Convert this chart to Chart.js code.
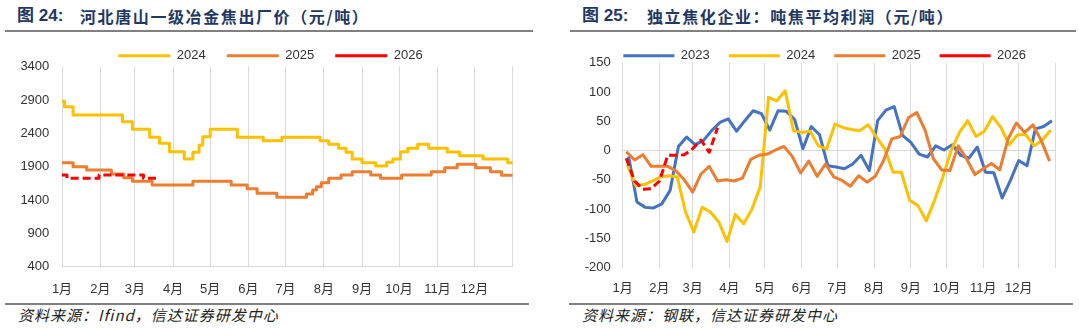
<!DOCTYPE html>
<html><head><meta charset="utf-8">
<script src="https://cdn.jsdelivr.net/npm/chart.js@4.4.1/dist/chart.umd.min.js"></script>
<style>
html,body{margin:0;padding:0;background:#fff;}
body{width:1079px;height:329px;position:relative;overflow:hidden;}
.title{position:absolute;top:5px;font:bold 16px "Noto Sans CJK SC",sans-serif;color:#1F3864;white-space:nowrap;line-height:22px;}
.title .fig{position:absolute;left:0;top:0;font-family:"Liberation Sans",Arial,"Noto Sans CJK SC",sans-serif;font-size:17px;}
.title .txt{position:absolute;left:63px;top:0;letter-spacing:1.6px;}
.rule{position:absolute;height:2px;background:#808080;}
.src{position:absolute;top:305px;font:italic 15px "Noto Sans CJK SC",sans-serif;color:#222;white-space:nowrap;letter-spacing:1px;line-height:20px;}
canvas{position:absolute;top:0;}
</style></head><body>
<div class="title" style="left:17px"><span class="fig">图 24:</span><span class="txt">河北唐山一级冶金焦出厂价（元/吨）</span></div>
<div class="rule" style="left:5px;width:528px;top:30px"></div>
<div class="title" style="left:582px"><span class="fig">图 25:</span><span class="txt" style="left:65px">独立焦化企业：吨焦平均利润（元/吨）</span></div>
<div class="rule" style="left:570px;width:506px;top:30px"></div>
<canvas id="c1" width="540" height="300" style="left:0"></canvas>
<canvas id="c2" width="499" height="300" style="left:580px"></canvas>
<div class="rule" style="left:5px;width:524px;top:303px"></div>
<div class="rule" style="left:569px;width:504px;top:303px"></div>
<div class="src" style="left:18px">资料来源：Ifind，信达证券研发中心</div>
<div class="src" style="left:582px">资料来源：钢联，信达证券研发中心</div>
<script>
// ---------- shared axis data ----------
const monthLabels = ['1月','2月','3月','4月','5月','6月','7月','8月','9月','10月','11月','12月'];
const monthStartDays = [0,31,59,90,120,151,181,212,243,273,304,334,365];

// ---------- Fig 24: 河北唐山一级冶金焦出厂价 (step changes: day of year, price) ----------
const priceYears = ['2024','2025','2026'];
const priceDays2024 = [0,2,9,49,57,71,79,87,99,106,111,114,120,142,163,178,209,216,224,230,235,243,254,263,268,274,280,288,297,312,322,341,361,365];
const price2024     = [2880,2800,2675,2575,2460,2340,2250,2125,2015,2115,2225,2350,2460,2340,2290,2340,2290,2235,2175,2115,2015,1960,1910,1965,2015,2125,2175,2235,2175,2120,2065,2015,1960,1960];
const priceDays2025 = [0,9,20,40,50,57,73,106,137,150,158,174,198,203,206,210,216,226,235,250,258,275,299,310,320,335,347,356,365];
const price2025     = [1960,1900,1850,1790,1735,1680,1625,1680,1625,1570,1500,1440,1490,1550,1600,1660,1725,1775,1825,1775,1725,1775,1825,1885,1935,1885,1825,1770,1770];
const priceDays2026 = [0,4,30,66,78];
const price2026     = [1775,1725,1775,1725,1725];
const priceTicks = {min:400, max:3400, step:500};

// ---------- Fig 25: 独立焦化企业吨焦平均利润 (weekly: day of year, profit) ----------
const profitYears = ['2023','2024','2025','2026'];
const profitDays2023 = [5,12,19,26,33,40,47,54,61,68,75,82,89,96,103,110,117,124,131,138,145,152,159,166,173,180,187,194,201,208,215,222,229,236,243,250,257,264,271,278,285,292,299,306,313,320,327,334,341,348,355,362];
const profit2023     = [-10,-88,-97,-98,-91,-68,7,23,10,17,34,48,54,33,51,68,63,35,68,67,53,3,41,27,-26,-28,-31,-23,-8,-34,51,69,75,26,14,-6,-11,8,1,10,-8,-13,6,-37,-38,-81,-51,-17,-26,37,41,51];
const profitDays2024 = [4,11,18,25,32,39,46,53,60,67,74,81,88,95,102,109,116,123,130,137,144,151,158,165,172,179,186,193,200,207,214,221,228,235,242,249,256,263,270,277,284,291,298,305,312,319,326,333,340,347,354,361];
const profit2024     = [-25,-60,-58,-52,-45,-43,-45,-105,-139,-97,-105,-122,-155,-109,-125,-100,-62,91,85,102,34,31,33,8,3,45,39,36,34,44,23,3,-37,-37,-85,-94,-120,-85,-45,0,31,51,24,33,58,39,10,27,27,8,18,35];
const profitDays2025 = [3,10,17,24,31,38,45,52,59,66,73,80,87,94,101,108,115,122,129,136,143,150,157,164,171,178,185,192,199,206,213,220,227,234,241,248,255,262,269,276,283,290,297,304,311,318,325,332,339,346,353,360];
const profit2025     = [-2,-16,-7,-27,-27,-27,-35,-50,-71,-40,-27,-52,-50,-52,-47,-15,-8,-6,1,7,-10,-38,-18,-44,-23,-45,-51,-61,-43,-54,-44,-17,20,24,56,65,35,-14,-33,-34,8,-14,-41,-31,-22,-33,20,47,31,44,17,-18];
const profitDays2026 = [3,10,17,24,31,38,45,52,59,66,73,80];
const profit2026     = [-13,-52,-66,-65,-52,-8,-8,-7,3,18,-3,39];
const profitTicks = {min:-200, max:150, step:50};

// ---------- colours ----------
const colors = {'2023':'#4472C4','2024':'#FFC000','2025':'#ED7D31','2026':'#FF0000'};
const GRID = '#D9D9D9';

Chart.defaults.font.family = '"Liberation Sans", Arial, "Noto Sans CJK SC", sans-serif';
Chart.defaults.font.size = 13;
Chart.defaults.color = '#333333';

const toPoints = (xs, ys) => xs.map((x, i) => ({x: x, y: ys[i]}));

// let the y-axis labels use the room left of the (padded) layout box
const labelRoom = {
  id: 'labelRoom',
  afterLayout(chart) { chart.scales.y.left = 0; }
};

function makeDataset(label, xs, ys, n, idx, stepped, width) {
  const dashed = label === '2026';
  return {
    label: label,
    data: toPoints(xs, ys),
    borderColor: colors[label],
    backgroundColor: colors[label],
    borderWidth: width,
    borderDash: dashed ? [8, 4] : [],
    borderJoinStyle: 'round',
    pointRadius: 0,
    pointHoverRadius: 0,
    fill: false,
    tension: 0,
    stepped: stepped ? 'before' : false,
    order: n - 1 - idx
  };
}

function makeChart(canvasId, datasets, cfg) {
  return new Chart(document.getElementById(canvasId), {
    type: 'line',
    data: { datasets: datasets },
    plugins: [labelRoom],
    options: {
      responsive: false,
      animation: false,
      devicePixelRatio: 1,
      layout: { padding: cfg.padding },
      plugins: {
        tooltip: { enabled: false },
        legend: {
          display: true,
          position: 'top',
          align: 'center',
          maxHeight: cfg.legendHeight,
          labels: {
            usePointStyle: true,
            pointStyle: 'line',
            pointStyleWidth: cfg.legendLine,
            padding: cfg.legendPad,
            color: '#333333',
            font: { size: 13 },
            sort: (a, b) => a.datasetIndex - b.datasetIndex
          }
        }
      },
      scales: {
        x: {
          type: 'linear',
          min: 0,
          max: 365,
          afterBuildTicks: (scale) => { scale.ticks = monthStartDays.map(v => ({value: v})); },
          afterFit: (scale) => { scale.height = cfg.xAxisHeight; },
          ticks: {
            autoSkip: false, maxRotation: 0, minRotation: 0,
            padding: cfg.xPad,
            color: '#333333',
            callback: (v, i) => (i < monthLabels.length ? monthLabels[i] : '')
          },
          grid: { display: true, drawTicks: false, color: GRID, lineWidth: 1 },
          border: { display: cfg.xBorder, color: GRID, width: 1 }
        },
        y: {
          type: 'linear',
          min: cfg.ticks.min,
          max: cfg.ticks.max,
          afterFit: (scale) => { scale.width = cfg.yAxisWidth; },
          ticks: { stepSize: cfg.ticks.step, padding: cfg.yPad, color: '#333333',
                   callback: (v) => String(v) },
          grid: {
            display: true, drawTicks: false, lineWidth: 1,
            color: (ctx) => (cfg.zeroLine && ctx.tick && ctx.tick.value === 0) ? GRID : 'rgba(0,0,0,0)'
          },
          border: { display: false }
        }
      }
    }
  });
}

// Fig 24
const priceSeries = [[priceDays2024, price2024], [priceDays2025, price2025], [priceDays2026, price2026]];
makeChart('c1',
  priceYears.map((y, i) => makeDataset(y, priceSeries[i][0], priceSeries[i][1], priceYears.length, i, true, 3)),
  { padding: {left: 28.3, right: 27.3, top: 28.2, bottom: 0},
    legendHeight: 38.5, legendPad: 21, legendLine: 52,
    xAxisHeight: 33.3, yAxisWidth: 33.7, xPad: 14.5, yPad: 12.7,
    ticks: priceTicks, zeroLine: false, xBorder: true });

// Fig 25
const profitSeries = [[profitDays2023, profit2023], [profitDays2024, profit2024], [profitDays2025, profit2025], [profitDays2026, profit2026]];
makeChart('c2',
  profitYears.map((y, i) => makeDataset(y, profitSeries[i][0], profitSeries[i][1], profitYears.length, i, false, 3)),
  { padding: {left: 13.9, right: 23.5, top: 30.2, bottom: 0},
    legendHeight: 32.5, legendPad: 19, legendLine: 51,
    xAxisHeight: 32.3, yAxisWidth: 28.8, xPad: 12.5, yPad: 12,
    ticks: profitTicks, zeroLine: true, xBorder: false });
</script>
</body></html>
